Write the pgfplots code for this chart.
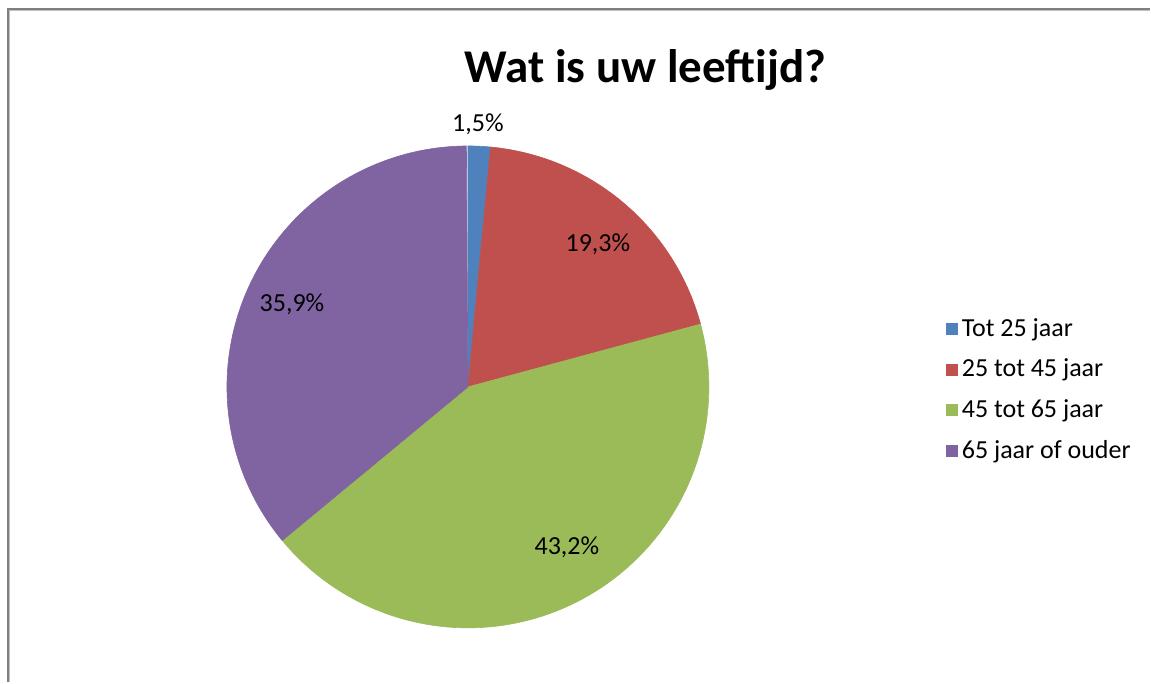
\documentclass[border=0pt]{standalone}
\usepackage{pgfplots}
\pgfplotsset{compat=1.18}
\usepackage{fontspec}
\setmainfont{Carlito}

\definecolor{cBlue}{HTML}{4F81BD}
\definecolor{cRed}{HTML}{C0504D}
\definecolor{cGreen}{HTML}{9BBB59}
\definecolor{cPurple}{HTML}{8064A2}

% share per age group (%)
\def\vA{1.5}
\def\vB{19.3}
\def\vC{43.2}
\def\vD{35.9}
% pie centre and radius (pixel units)
\def\cx{468}
\def\cy{295}
\def\rr{241}
\pgfmathsetmacro\aA{90}
\pgfmathsetmacro\aB{\aA-3.6*\vA}
\pgfmathsetmacro\aC{\aB-3.6*\vB}
\pgfmathsetmacro\aD{\aC-3.6*\vC}
\pgfmathsetmacro\aE{\aD-3.6*\vD}

\begin{document}
\begin{tikzpicture}
\begin{axis}[
    x=0.5pt, y=0.5pt,
    xmin=0, xmax=1151, ymin=0, ymax=682,
    hide axis, clip=false,
    samples=90, variable=\t,
    legend image code/.code={\fill[#1] (0pt,-2.75pt) rectangle (5.5pt,2.75pt);},
    legend style={draw=none, fill=none, at={(axis cs:940,372)}, anchor=north west,
        font=\fontsize{13}{15}\selectfont, row sep=5.85pt,
        cells={anchor=west}},
]
\path (0,0) rectangle (1151,682);
\addplot[fill=cBlue, draw=cBlue, line width=0.3pt, domain=\aB:\aA] ({\cx+\rr*cos(\t)},{\cy+\rr*sin(\t)}) -- (\cx,\cy) -- cycle;
\addlegendentry{Tot 25 jaar}
\addplot[fill=cRed, draw=cRed, line width=0.3pt, domain=\aC:\aB] ({\cx+\rr*cos(\t)},{\cy+\rr*sin(\t)}) -- (\cx,\cy) -- cycle;
\addlegendentry{25 tot 45 jaar}
\addplot[fill=cGreen, draw=cGreen, line width=0.3pt, domain=\aD:\aC] ({\cx+\rr*cos(\t)},{\cy+\rr*sin(\t)}) -- (\cx,\cy) -- cycle;
\addlegendentry{45 tot 65 jaar}
\addplot[fill=cPurple, draw=cPurple, line width=0.3pt, domain=\aE:\aD] ({\cx+\rr*cos(\t)},{\cy+\rr*sin(\t)}) -- (\cx,\cy) -- cycle;
\addlegendentry{65 jaar of ouder}

\node[anchor=base, font=\fontsize{23.5}{28}\selectfont\bfseries] at (645.5,599) {Wat is uw leeftijd?};
\node[anchor=base, font=\fontsize{13}{15}\selectfont] at (478,550) {1,5\%};
\node[anchor=base, font=\fontsize{13}{15}\selectfont] at (598,430) {19,3\%};
\node[anchor=base, font=\fontsize{13}{15}\selectfont] at (292,370) {35,9\%};
\node[anchor=base, font=\fontsize{13}{15}\selectfont] at (567,127) {43,2\%};

\draw[color=black!25, line width=0.5pt] (10,0) -- (10,671) -- (1150,671);
\draw[color=black!50, line width=1.2pt] (8.3,0) -- (8.3,673) -- (1150,673);
\end{axis}
\end{tikzpicture}
\end{document}
